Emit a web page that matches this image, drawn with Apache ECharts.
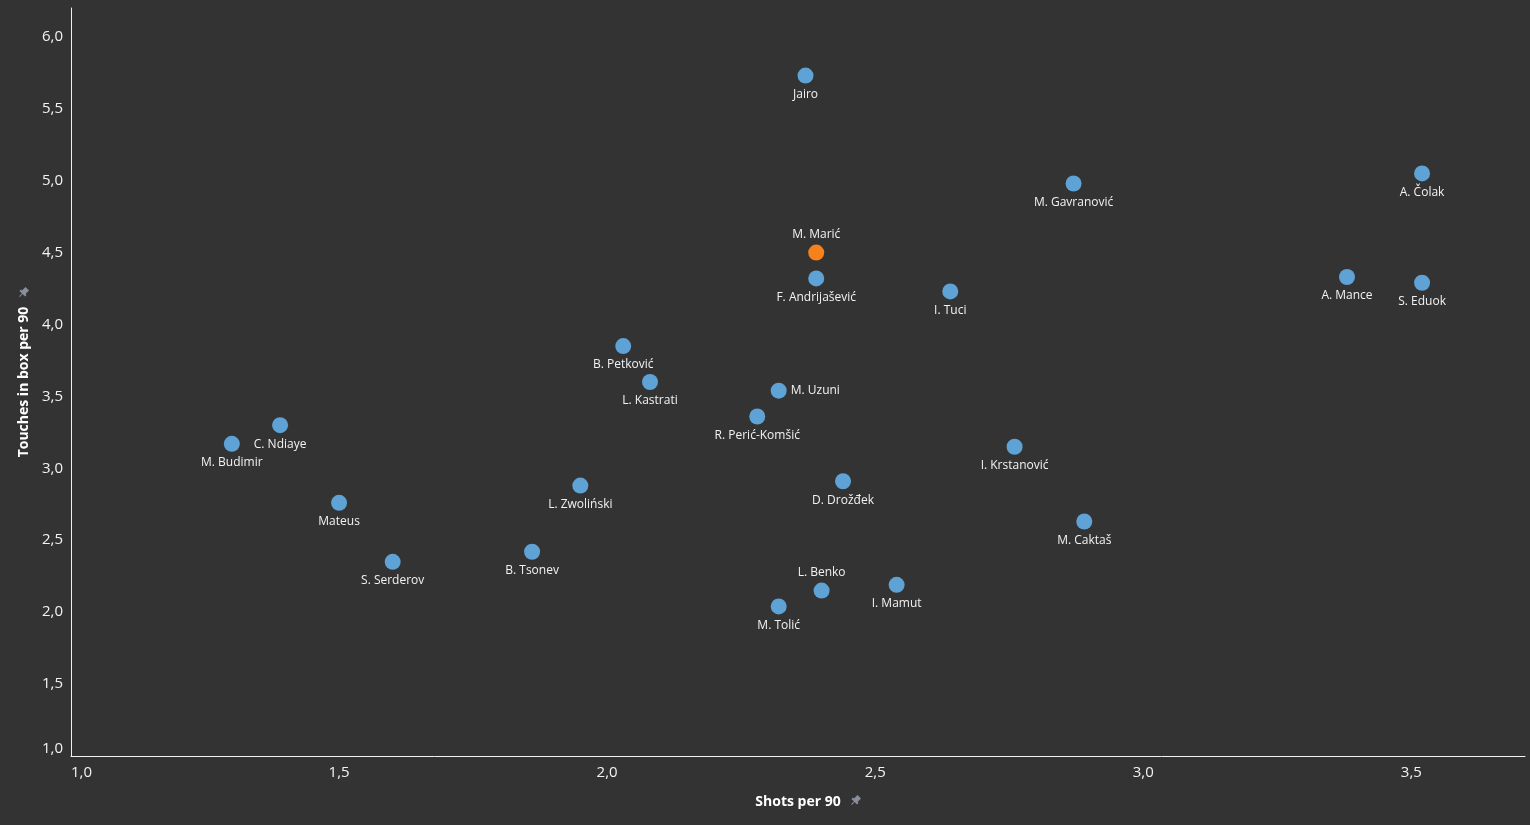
<!DOCTYPE html>
<html>
<head>
<meta charset="utf-8">
<script src="https://cdn.jsdelivr.net/npm/echarts@6/dist/echarts.min.js"></script>
<style>
  html, body { margin: 0; padding: 0; background: #333333; }
  #chart { width: 1530px; height: 825px; }
</style>
</head>
<body>
<div id="chart"></div>
<script>
const players = ["Jairo","A. Čolak","M. Gavranović","M. Marić","F. Andrijašević","I. Tuci","A. Mance","S. Eduok","B. Petković","L. Kastrati","M. Uzuni","R. Perić-Komšić","C. Ndiaye","M. Budimir","I. Krstanović","D. Drožđek","L. Zwoliński","Mateus","M. Caktaš","B. Tsonev","S. Serderov","I. Mamut","L. Benko","M. Tolić"];
const shotsPer90 = [2.37,3.52,2.87,2.39,2.39,2.64,3.38,3.52,2.03,2.08,2.32,2.28,1.39,1.30,2.76,2.44,1.95,1.50,2.89,1.86,1.60,2.54,2.40,2.32];
const touchesInBoxPer90 = [5.73,5.05,4.98,4.50,4.32,4.23,4.33,4.29,3.85,3.60,3.54,3.36,3.30,3.17,3.15,2.91,2.88,2.76,2.63,2.42,2.35,2.19,2.15,2.04];
const highlighted = ["M. Marić"];
const xTicks = [1.0,1.5,2.0,2.5,3.0,3.5];
const yTicks = [1.0,1.5,2.0,2.5,3.0,3.5,4.0,4.5,5.0,5.5,6.0];

// label placement overrides (style)
const labelPlacement = { "M. Marić": "top", "L. Benko": "top", "M. Uzuni": "right" };

const BLUE = "#5fa2d5";
const ORANGE = "#f7821b";
const FONT = "'Open Sans', 'Noto Sans', sans-serif";

const data = players.map((n, i) => {
  const pos = labelPlacement[n] || "bottom";
  return {
    name: n,
    value: [shotsPer90[i], touchesInBoxPer90[i]],
    itemStyle: { color: highlighted.includes(n) ? ORANGE : BLUE, opacity: 1 },
    label: { position: pos, distance: pos === "right" ? 4 : (pos === "top" ? 4 : 5) }
  };
});

const fmt = v => v.toFixed(1).replace('.', ',');

const chart = echarts.init(document.getElementById('chart'), null, { renderer: 'canvas' });

function pin(x, y) {
  return {
    type: 'group', x: x, y: y, rotation: -Math.PI / 4, silent: true,
    children: [
      { type: 'rect', shape: { x: -2.5, y: -6, width: 5, height: 6 }, style: { fill: '#8a909b' } },
      { type: 'rect', shape: { x: -4, y: -1, width: 8, height: 2 }, style: { fill: '#8a909b' } },
      { type: 'line', shape: { x1: 0, y1: 0, x2: 0, y2: 5 }, style: { stroke: '#8a909b', lineWidth: 1 } }
    ]
  };
}

chart.setOption({
  backgroundColor: '#333333',
  animation: false,
  grid: { left: 71, right: 5, top: 8, bottom: 69, containLabel: false },
  xAxis: {
    type: 'value', min: 1.0, max: 3.712, interval: 0.5,
    name: 'Shots per 90', nameLocation: 'middle', nameGap: 39,
    nameTextStyle: { color: '#ffffff', fontSize: 14, fontWeight: 'bold', fontFamily: FONT },
    axisLine: { show: true, lineStyle: { color: '#f2f2f2', width: 1 } },
    axisTick: { show: false },
    splitLine: { show: false },
    axisLabel: {
      color: '#f2f2f2', fontSize: 15, fontFamily: FONT, margin: 9,
      showMaxLabel: false, alignMinLabel: 'left',
      formatter: v => xTicks.some(t => Math.abs(t - v) < 1e-6) ? fmt(v) : ''
    }
  },
  yAxis: {
    type: 'value', min: 1.0, max: 6.2, interval: 0.5,
    name: 'Touches in box per 90', nameLocation: 'middle', nameGap: 39,
    nameTextStyle: { color: '#ffffff', fontSize: 14, fontWeight: 'bold', fontFamily: FONT },
    axisLine: { show: true, lineStyle: { color: '#f2f2f2', width: 1 } },
    axisTick: { show: false },
    splitLine: { show: false },
    axisLabel: {
      color: '#f2f2f2', fontSize: 15, fontFamily: FONT, margin: 8,
      showMaxLabel: false, verticalAlignMinLabel: 'bottom',
      formatter: v => yTicks.some(t => Math.abs(t - v) < 1e-6) ? fmt(v) : ''
    }
  },
  series: [{
    type: 'scatter',
    symbol: 'circle',
    symbolSize: 16,
    data: data,
    itemStyle: { opacity: 1 },
    label: {
      show: true,
      formatter: p => p.name,
      color: '#f2f2f2',
      fontSize: 12,
      fontFamily: FONT
    },
    labelLayout: { hideOverlap: false }
  }],
  graphic: [pin(855, 801), pin(23, 293)]
});
</script>
</body>
</html>
